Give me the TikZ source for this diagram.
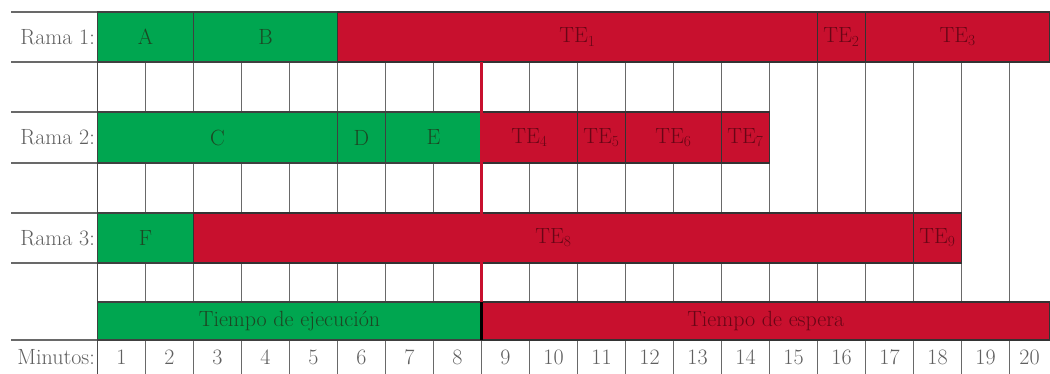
\documentclass[tikz,border=0pt]{standalone}
\usepackage{xcolor}
\definecolor{grn}{RGB}{0,166,80}
\definecolor{rd}{RGB}{200,16,46}
\definecolor{gtxt}{RGB}{28,72,36}
\definecolor{rtxt}{RGB}{105,6,22}
\definecolor{lbl}{RGB}{95,95,95}
\definecolor{gridc}{RGB}{105,105,105}
\newcommand\fsz{\fontsize{22}{25}\selectfont}
\newcommand\mkbar[7]{%
  \pgfmathsetmacro\xa{97.5+48*(#2-1)}%
  \pgfmathsetmacro\xb{min(97.5+48*#3,1050)}%
  \pgfmathsetmacro\bw{\xb-\xa}%
  \pgfmathsetmacro\bh{#5-#4}%
  \node[#6, minimum width=\bw pt, minimum height=\bh pt, anchor=north west] (#1) at (\xa,#4) {#7};%
}
\tikzset{
  barbase/.style={inner sep=0pt, outer sep=0pt, line width=1.1pt, font=\fsz},
  gbar/.style={barbase, fill=grn, draw=black!75, text=gtxt},
  rbar/.style={barbase, fill=rd, draw=black!80, text=rtxt},
  gridline/.style={draw=gridc, line width=1pt},
  hline/.style={draw=gridc, line width=1.4pt},
  lbltext/.style={text=lbl, font=\fsz, inner sep=0pt, anchor=east},
  numtext/.style={text=lbl, font=\fsz, inner sep=0pt},
  redline/.style={draw=rd, line width=3pt},
  blackline/.style={draw=black, line width=3pt}
}
\begin{document}
\begin{tikzpicture}[x=1pt,y=-1pt]
\useasboundingbox (0,0) rectangle (1050,374);
\clip (0,0) rectangle (1050,374);
\fill[white] (0,0) rectangle (1050,374);

% vertical grid lines
\foreach \i in {1,...,19}{
  \draw[gridline] (97.5+48*\i,12) -- (97.5+48*\i,374);
}
\draw[draw=black!70, line width=1.4pt] (97.5,12) -- (97.5,374);

% horizontal lines of the label column
\foreach \yy in {12,62,112,163,213,263,340}{
  \draw[hline] (11,\yy) -- (97.5,\yy);
}

% Rama 1
\mkbar{A}{1}{2}{12}{62}{gbar}{A}
\mkbar{B}{3}{5}{12}{62}{gbar}{B}
\mkbar{TE1}{6}{15}{12}{62}{rbar}{TE\textsubscript{1}}
\mkbar{TE2}{16}{16}{12}{62}{rbar}{TE\textsubscript{2}}
\mkbar{TE3}{17}{20}{12}{62}{rbar}{TE\textsubscript{3}}
% Rama 2
\mkbar{C}{1}{5}{112}{163}{gbar}{C}
\mkbar{D}{6}{6}{112}{163}{gbar}{D}
\mkbar{E}{7}{8}{112}{163}{gbar}{E}
\mkbar{TE4}{9}{10}{112}{163}{rbar}{TE\textsubscript{4}}
\mkbar{TE5}{11}{11}{112}{163}{rbar}{TE\textsubscript{5}}
\mkbar{TE6}{12}{13}{112}{163}{rbar}{TE\textsubscript{6}}
\mkbar{TE7}{14}{14}{112}{163}{rbar}{TE\textsubscript{7}}
% Rama 3
\mkbar{F}{1}{2}{213}{263}{gbar}{F}
\mkbar{TE8}{3}{17}{213}{263}{rbar}{TE\textsubscript{8}}
\mkbar{TE9}{18}{18}{213}{263}{rbar}{TE\textsubscript{9}}
% Tiempos
\mkbar{ej}{1}{8}{302}{340}{gbar}{Tiempo de ejecución}
\mkbar{es}{9}{20}{302}{340}{rbar}{Tiempo de espera}

% separating lines at minute 8/9
\draw[redline] (TE4.north west |- TE1.south) -- (es.north west);
\draw[blackline] (es.north west) -- (es.south west);

% row labels
\node[lbltext] (r1) at (95,37) {Rama 1:};
\node[lbltext] (r2) at (95,137.5) {Rama 2:};
\node[lbltext] (r3) at (95,238) {Rama 3:};
\node[lbltext] (mn) at (95,357) {Minutos:};

% minute numbers
\foreach \i in {1,...,20}{
  \pgfmathsetmacro\cx{97.5+48*\i-24-4*(\i==20)}
  \node[numtext] (m\i) at (\cx,357) {\i};
}
\end{tikzpicture}
\end{document}
